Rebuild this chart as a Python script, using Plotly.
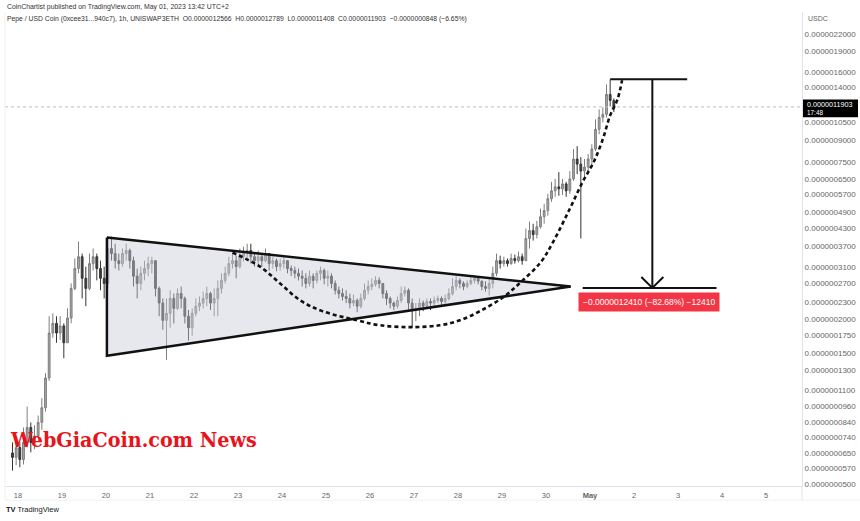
import math
from datetime import datetime, timedelta
import plotly.graph_objects as go

# ---------------- data (prices in nano-USDC, 1 unit = 1e-9 USDC) ----------------
SCALE = 1e-9
FIRST_CANDLE = "2023-04-17 21:00"
CANDLE_HOURS = 2

open_first = 65
close_n = [62.6, 68, 61.5, 71, 80.5, 71, 75, 84, 95, 122, 178,
           193, 178, 189, 164, 202, 259, 306, 338, 282, 259, 319, 338, 306, 282, 270, 362,
           347, 327, 319, 347, 356, 327, 287, 270, 294, 306, 319, 327, 259, 229, 198, 210,
           238, 219, 248, 238, 205, 186, 210, 223, 229, 238, 248, 229, 238, 259, 277, 294,
           319, 327, 311, 338, 347, 356, 338,
           327, 338, 327, 347, 319, 327, 311, 319, 327, 306, 301, 294, 287, 282, 270, 287,
           277, 294, 301, 282, 287, 270, 255, 248, 242, 238, 229, 234, 223, 238, 255, 263,
           268, 277, 270, 248, 238, 229, 223, 234, 248, 255, 229, 216, 219, 229, 223, 232,
           229, 234, 238, 232, 238, 248, 263, 277, 270, 263, 270, 277, 282, 275, 263, 259,
           270,
           294, 327, 319, 327, 319, 333, 327, 338, 327, 394, 421, 407, 435, 473, 498, 550,
           588, 608, 598, 623, 588, 650, 768, 736, 694, 718, 768, 835, 986, 1090, 1118,
           1322, 1256.6, 1190.3]
high_n = [71, 74, 71, 80.5, 96, 84, 82, 89, 103, 127, 205,
          210, 205, 205, 193, 219, 270, 333, 384, 347, 311, 347, 362, 347, 327, 311, 400,
          400, 377, 347, 362, 377, 362, 338, 306, 311, 327, 338, 338, 327, 263, 238, 238,
          255, 248, 259, 263, 242, 216, 219, 238, 242, 252, 263, 252, 259, 277, 294, 311,
          338, 347, 341, 362, 368, 377, 377,
          347, 356, 347, 362, 347, 338, 333, 333, 338, 327, 314, 311, 306, 301, 294, 301,
          294, 301, 311, 306, 301, 294, 277, 263, 259, 255, 248, 246, 238, 248, 270, 277,
          282, 287, 284, 270, 255, 242, 232, 242, 263, 263, 259, 238, 229, 238, 234, 238,
          238, 242, 244, 242, 246, 259, 282, 287, 282, 275, 277, 287, 289, 287, 277, 275,
          282,
          311, 347, 341, 338, 333, 347, 344, 353, 347, 428, 454, 446, 457, 506, 527, 573,
          634, 650, 688, 650, 634, 694, 835, 856, 781, 768, 801, 870, 1072, 1166, 1186,
          1437, 1498, 1278.9]
low_n = [56, 58.6, 57.6, 59, 68, 65.3, 67, 74, 79, 92, 119,
         171, 164, 168, 144, 164, 193, 255, 294, 238, 223, 255, 301, 277, 255, 238, 259,
         327, 306, 301, 311, 327, 306, 263, 238, 255, 277, 287, 294, 242, 205, 183, 142,
         186, 193, 216, 219, 193, 167, 174, 205, 214, 219, 223, 216, 205, 205, 248, 270,
         287, 306, 282, 306, 325, 327, 319,
         311, 316, 311, 322, 301, 306, 299, 301, 306, 294, 287, 282, 277, 263, 259, 263,
         259, 270, 277, 268, 263, 259, 246, 238, 234, 229, 219, 223, 212, 219, 234, 246,
         255, 263, 259, 238, 225, 219, 216, 219, 229, 242, 216, 186, 197, 205, 214, 219,
         216, 223, 229, 225, 227, 234, 244, 255, 259, 255, 259, 266, 270, 268, 255, 252,
         244,
         259, 287, 306, 311, 311, 316, 319, 322, 316, 327, 362, 387, 394, 428, 446, 477,
         536, 559, 564, 568, 559, 573, 639, 677, 394, 650, 677, 718, 821, 946, 1045,
         1090, 1196, 1140.8]

# tick labels
y_tick_prices = [2.2e-6, 1.9e-6, 1.6e-6, 1.4e-6, 1.05e-6, 9.0e-7, 7.5e-7, 6.5e-7, 5.7e-7,
                 4.9e-7, 4.3e-7, 3.7e-7, 3.1e-7, 2.7e-7, 2.3e-7, 2.0e-7, 1.75e-7, 1.5e-7,
                 1.3e-7, 1.1e-7, 9.6e-8, 8.4e-8, 7.4e-8, 6.5e-8, 5.7e-8, 5.0e-8]
x_tick_dates = ["2023-04-18", "2023-04-19", "2023-04-20", "2023-04-21", "2023-04-22",
                "2023-04-23", "2023-04-24", "2023-04-25", "2023-04-26", "2023-04-27",
                "2023-04-28", "2023-04-29", "2023-04-30", "2023-05-01", "2023-05-02",
                "2023-05-03", "2023-05-04", "2023-05-05"]
x_tick_text = ["18", "19", "20", "21", "22", "23", "24", "25", "26", "27", "28", "29",
               "30", "<b>May</b>", "2", "3", "4", "5"]

# drawings (time, price in nano-USDC)
tri_time = ["2023-04-20 00:30", "2023-04-20 00:30", "2023-04-30 13:30", "2023-04-20 00:30"]
tri_price_n = [397, 147, 263, 397]

cup_time = ["2023-04-22 21:00", "2023-04-23 12:00", "2023-04-23 23:00", "2023-04-24 10:00",
            "2023-04-24 22:00", "2023-04-25 17:00", "2023-04-26 05:30", "2023-04-26 22:00",
            "2023-04-27 14:00", "2023-04-28 01:00", "2023-04-28 12:00", "2023-04-29 00:30",
            "2023-04-29 10:00", "2023-04-29 21:00", "2023-04-30 04:00", "2023-04-30 13:00",
            "2023-04-30 20:00", "2023-05-01 02:00", "2023-05-01 07:00", "2023-05-01 11:00",
            "2023-05-01 15:00", "2023-05-01 17:30"]
cup_price_n = [350, 311, 270, 234, 214, 198, 190, 187, 190, 198, 214, 240, 272, 322, 384,
               506, 634, 749, 908, 1109, 1268, 1490]

range_top_n = 1501
range_bottom_n = 260
range_top_time = ["2023-05-01 11:00", "2023-05-03 05:00"]
range_bottom_time = ["2023-04-30 20:00", "2023-05-03 21:00"]
range_arrow_time = "2023-05-02 10:00"
arrow_wing_time = ["2023-05-02 04:00", "2023-05-02 10:00", "2023-05-02 16:00"]
arrow_wing_n = [285, 260, 285]
range_label = "\u22120.0000012410 (\u221282.68%) \u221212410"
price_label = "0.0000011903"
countdown_label = "17:48"

X_RANGE = ["2023-04-17 16:55", "2023-05-05 19:38"]
Y_LOG_RANGE = [-7.30852, -5.57775]

# ---------------- build ----------------
W, H = 860, 521
start = datetime.strptime(FIRST_CANDLE, "%Y-%m-%d %H:%M")
times = [start + timedelta(hours=CANDLE_HOURS * i) for i in range(len(close_n))]
open_n = [open_first] + close_n[:-1]


def sc(v):
    return [p * SCALE for p in v]


fig = go.Figure()

# triangle fill (below candles)
fig.add_trace(go.Scatter(x=tri_time, y=sc(tri_price_n), mode="lines", fill="toself",
                         fillcolor="rgba(200,204,214,0.45)", line=dict(width=0),
                         hoverinfo="skip", showlegend=False))

fig.add_trace(go.Candlestick(
    x=times, open=sc(open_n), high=sc(high_n), low=sc(low_n), close=sc(close_n),
    increasing=dict(line=dict(color="#7e7e7e", width=1), fillcolor="#a8a8a8"),
    decreasing=dict(line=dict(color="#333333", width=1), fillcolor="#444444"),
    whiskerwidth=0, showlegend=False, hoverinfo="skip"))

# current price line
fig.add_trace(go.Scatter(x=X_RANGE, y=[close_n[-1] * SCALE] * 2, mode="lines",
                         line=dict(color="#bdbdbd", width=1, dash="dot"),
                         hoverinfo="skip", showlegend=False))

# triangle outline
fig.add_trace(go.Scatter(x=tri_time, y=sc(tri_price_n), mode="lines",
                         line=dict(color="#111111", width=2.5),
                         hoverinfo="skip", showlegend=False))
# cup curve
fig.add_trace(go.Scatter(x=cup_time, y=sc(cup_price_n), mode="lines",
                         line=dict(color="#111111", width=2.6, dash="4px,3px", shape="spline"),
                         hoverinfo="skip", showlegend=False))
# price range tool
for xs, ys in [
    (range_top_time, [range_top_n] * 2),
    (range_bottom_time, [range_bottom_n] * 2),
    ([range_arrow_time] * 2, [range_top_n, range_bottom_n]),
    (arrow_wing_time, arrow_wing_n),
]:
    fig.add_trace(go.Scatter(x=xs, y=sc(ys), mode="lines",
                             line=dict(color="#111111", width=2),
                             hoverinfo="skip", showlegend=False))


def px_x(p):
    return p / W


def px_y(p):
    return 1 - p / H


fig.update_layout(
    width=W, height=H, autosize=False,
    margin=dict(l=0, r=0, t=0, b=0),
    paper_bgcolor="white", plot_bgcolor="white",
    showlegend=False,
    font=dict(family="Liberation Sans, Arial, sans-serif", color="#555"),
    xaxis=dict(
        domain=[px_x(5), px_x(802)], type="date", range=X_RANGE,
        rangeslider=dict(visible=False),
        tickmode="array", tickvals=x_tick_dates, ticktext=x_tick_text,
        tickfont=dict(size=7.5, color="#666"), ticks="", ticklabelstandoff=2,
        showgrid=False, zeroline=False, showline=True, linecolor="#e0e3eb", linewidth=1,
        fixedrange=True,
    ),
    yaxis=dict(
        domain=[px_y(489), px_y(12)], type="log", range=Y_LOG_RANGE, side="right",
        tickmode="array", tickvals=y_tick_prices,
        ticktext=[f"{p:.10f}" for p in y_tick_prices],
        tickfont=dict(size=8, color="#666"), ticks="",
        showgrid=False, zeroline=False, showline=True, linecolor="#e0e3eb", linewidth=1,
        fixedrange=True,
    ),
)

ann = []
ann.append(dict(xref="paper", yref="paper", x=px_x(5), y=px_y(7), xanchor="left",
                yanchor="middle", showarrow=False,
                text="CoinChartist published on TradingView.com, May 01, 2023 13:42 UTC+2",
                font=dict(size=6.9, color="#333")))
ann.append(dict(xref="paper", yref="paper", x=px_x(5), y=px_y(19.5), xanchor="left",
                yanchor="middle", showarrow=False,
                text=("Pepe / USD Coin (0xcee31...940c7), 1h, UNISWAP3ETH  "
                      "O0.0000012566  H0.0000012789  L0.0000011408  C0.0000011903  "
                      "\u22120.0000000848 (\u22126.65%)"),
                font=dict(size=6.8, color="#333")))
ann.append(dict(xref="paper", yref="paper", x=px_x(806), y=px_y(19), xanchor="left",
                yanchor="middle", showarrow=False, text="USDC",
                font=dict(size=7, color="#666")))
# last price label on the price axis
ann.append(dict(xref="paper", yref="y", x=px_x(805),
                y=math.log10(close_n[-1] * SCALE), xanchor="left", yanchor="middle",
                showarrow=False, text=price_label, yshift=2,
                font=dict(size=7.2, color="#ffffff")))
ann.append(dict(xref="paper", yref="y", x=px_x(805),
                y=math.log10(close_n[-1] * SCALE), xanchor="left", yanchor="middle",
                showarrow=False, text=countdown_label, yshift=-6,
                font=dict(size=6.4, color="#ffffff")))
ann.append(dict(xref="x", yref="y", x="2023-05-02 08:00",
                y=math.log10(232 * SCALE), xanchor="center", yanchor="middle",
                showarrow=False, text=range_label, bgcolor="#f23645",
                borderpad=4, font=dict(size=8.5, color="#ffffff")))
ann.append(dict(xref="paper", yref="paper", x=px_x(8), y=px_y(442), xanchor="left",
                yanchor="middle", showarrow=False, text="<b>WebGiaCoin.com News</b>",
                font=dict(size=21.3, color="#e8141c",
                          family="DejaVu Serif Condensed, DejaVu Serif, serif")))
ann.append(dict(xref="paper", yref="paper", x=px_x(4), y=px_y(512), xanchor="left",
                yanchor="middle", showarrow=False, text="<b>TV</b> TradingView",
                font=dict(size=7.5, color="#131722")))
fig.update_layout(annotations=ann)

# black box behind last price label (drawn under annotations)
fig.add_shape(type="rect", xref="paper", yref="paper", x0=px_x(803), x1=px_x(858),
              y0=px_y(118), y1=px_y(100), fillcolor="#000000", line=dict(width=0),
              layer="above")
fig.add_shape(type="line", xref="paper", yref="paper", x0=px_x(5), x1=px_x(860),
              y0=px_y(503), y1=px_y(503), line=dict(color="#eef0f3", width=1))
fig.add_shape(type="line", xref="paper", yref="paper", x0=px_x(802), x1=px_x(802),
              y0=px_y(489), y1=px_y(503), line=dict(color="#e0e3eb", width=1))
fig.add_shape(type="line", xref="paper", yref="paper", x0=px_x(5), x1=px_x(5),
              y0=px_y(503), y1=px_y(12), line=dict(color="#f0f1f4", width=1))

fig.write_html("out.html", config=dict(displayModeBar=False))
